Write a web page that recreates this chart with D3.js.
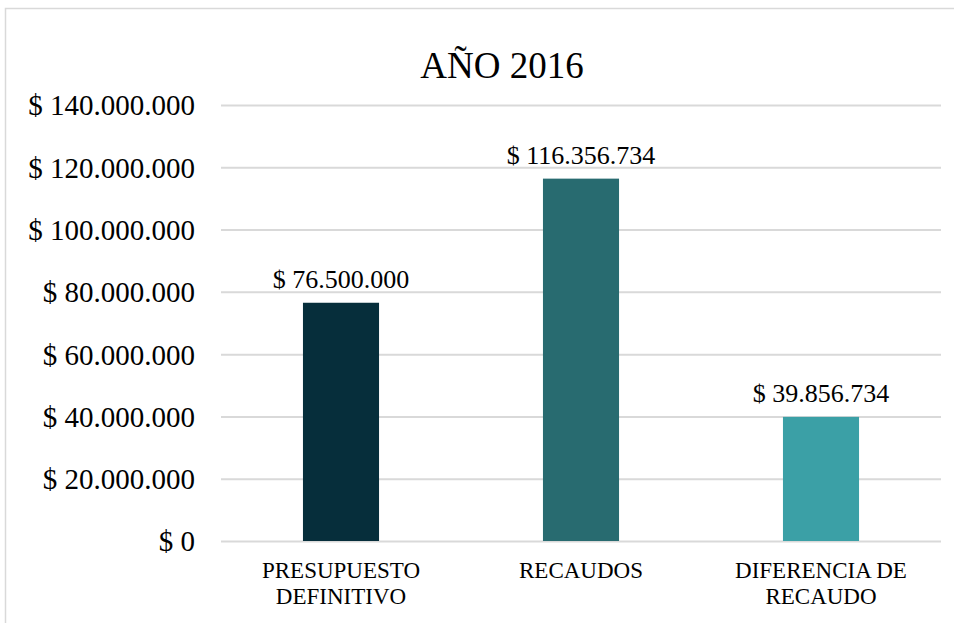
<!DOCTYPE html>
<html>
<head>
<meta charset="utf-8">
<script src="https://cdn.jsdelivr.net/npm/d3@7"></script>
<style>
  body { margin: 0; background: #fff; }
  svg { display: block; }
  svg text { font-family: "Liberation Serif", "Times New Roman", serif; }
</style>
</head>
<body>
<div id="chart"></div>
<script>
const categories = [["PRESUPUESTO", "DEFINITIVO"], ["RECAUDOS"], ["DIFERENCIA DE", "RECAUDO"]];
const values = [76500000, 116356734, 39856734];
const barColors = ["#062e3b", "#286b70", "#3ba0a6"];
const yTicks = [0, 20000000, 40000000, 60000000, 80000000, 100000000, 120000000, 140000000];
const chartTitle = "AÑO 2016";

const W = 954, H = 623;
const margin = {top: 105, right: 13, bottom: 82, left: 221};
const plotW = W - margin.left - margin.right,
    plotH = H - margin.top - margin.bottom;
const serif = "'Liberation Serif', 'Times New Roman', serif";

// thousands separator is a dot, like the original
const fmt = function(v) {
    return "$ " + d3.format(",.0f")(v).replace(/,/g, ".");
};

const svg = d3.select("#chart").append("svg")
    .attr("width", W)
    .attr("height", H);

// outer frame of the chart area
svg.append("rect")
    .attr("x", 5.5).attr("y", 8.5)
    .attr("width", W + 10).attr("height", H + 10)
    .attr("fill", "#fff")
    .attr("stroke", "#d9d9d9")
    .attr("stroke-width", 1.5);

const g = svg.append("g")
    .attr("transform", "translate(" + margin.left + "," + margin.top + ")");

let x = d3.scaleBand()
    .domain(d3.range(values.length))
    .range([0, plotW])
    .padding(0);

let y = d3.scaleLinear()
    .domain([0, 140000000])
    .range([plotH, 0]);

// gridlines + y labels via axis
const yAxis = d3.axisLeft(y).tickValues(yTicks).tickSize(-plotW).tickPadding(26).tickFormat(fmt);
g.append("g")
    .attr("class", "y axis")
    .call(yAxis)
    .attr("font-family", serif)
    .attr("font-size", 29)
    .call(function(a) {
        a.select(".domain").remove();
        a.selectAll("line").attr("stroke", "#d9d9d9").attr("stroke-width", 2);
        a.selectAll("text")
            .attr("fill", "#000")
            .attr("dy", "0.34em");
    });

const barW = x.bandwidth() * 0.317;

g.selectAll(".bar")
    .data(values)
    .enter()
    .append("rect")
    .attr("class", "bar")
    .attr("x", function(d, i) { return x(i) + (x.bandwidth() - barW) / 2; })
    .attr("y", function(d) { return y(d); })
    .attr("width", barW)
    .attr("height", function(d) { return plotH - y(d); })
    .attr("fill", function(d, i) { return barColors[i]; });

g.selectAll(".valLabel")
    .data(values)
    .enter()
    .append("text")
    .attr("class", "valLabel")
    .attr("x", function(d, i) { return x(i) + x.bandwidth() / 2; })
    .attr("y", function(d) { return y(d) - 15; })
    .attr("text-anchor", "middle")
    .attr("font-family", serif)
    .attr("font-size", 26)
    .attr("fill", "#000")
    .text(fmt);

// category labels, two lines where needed
g.selectAll(".catLabel")
    .data(categories)
    .enter()
    .append("text")
    .attr("class", "catLabel")
    .attr("text-anchor", "middle")
    .attr("transform", function(d, i) {
        return "translate(" + (x(i) + x.bandwidth() / 2) + "," + (plotH + 37) + ")";
    })
    .attr("font-family", serif)
    .attr("font-size", 23)
    .attr("fill", "#000")
    .selectAll("tspan")
    .data(function(d) { return d; })
    .enter()
    .append("tspan")
    .attr("x", 0)
    .attr("dy", function(d, j) { return j === 0 ? 0 : 26; })
    .text(function(d) { return d; });

svg.append("text")
    .attr("x", 502)
    .attr("y", 78)
    .attr("text-anchor", "middle")
    .attr("font-family", serif)
    .attr("font-size", 37)
    .attr("fill", "#000")
    .text(chartTitle);
</script>
</body>
</html>
